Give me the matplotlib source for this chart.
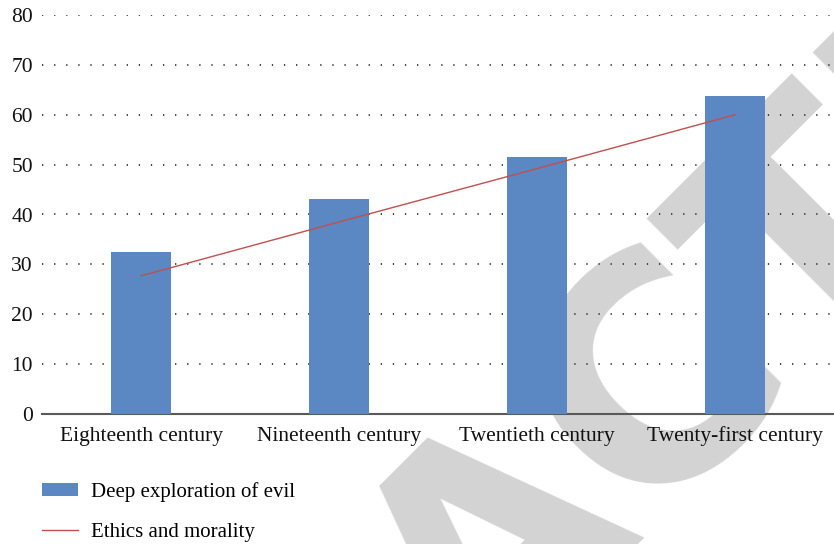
import matplotlib
matplotlib.use("Agg")
import matplotlib.pyplot as plt
import numpy as np

# data
centuries = ['Eighteenth century', 'Nineteenth century', 'Twentieth century', 'Twenty-first century']
evil = [32.5, 43.2, 51.6, 63.7]
ethics = [27.7, 38.5, 49.2, 60.0]

plt.rcParams['font.family'] = ['Liberation Serif', 'DejaVu Serif']

fig = plt.figure(figsize=(8.34, 5.44), dpi=100)
ax = fig.add_axes([42 / 834, (544 - 414) / 544, 1 - 42 / 834, (414 - 15) / 544])
ax.patch.set_visible(False)

# grey watermark behind everything
fig.text(497 / 834, 1 - 538 / 544, 'RETRACTED', rotation=45, ha='center', va='center',
         fontsize=220, color='#d3d3d3', family='DejaVu Sans', weight='bold', zorder=-1)

x = np.arange(len(centuries))
bars = ax.bar(x, evil, width=0.3, color='#5b87c2', label='Deep exploration of evil', zorder=3)
line, = ax.plot(x, ethics, color='#c0504d', lw=1.0, label='Ethics and morality', zorder=4)

ax.set_xlim(-0.5, 3.5)
ax.set_ylim(0, 80)
ax.set_yticks(range(0, 81, 10))
ax.set_xticks(x)
ax.set_xticklabels(centuries)
ax.tick_params(length=0, labelsize=15.5, colors='#111111')
ax.tick_params(axis='y', pad=6.5)
ax.tick_params(axis='x', pad=9)
ax.yaxis.grid(True, linestyle=(0, (0.7, 6.0)), color='#333333', lw=1.3, zorder=1)
ax.set_axisbelow(True)
for s in ['top', 'right', 'left']:
    ax.spines[s].set_visible(False)
ax.spines['bottom'].set_color('#595959')
ax.spines['bottom'].set_linewidth(1.5)

fig.legend(handles=[bars, line], loc='upper left', bbox_to_anchor=(42 / 834, 1 - 482 / 544),
           frameon=False, fontsize=15, handlelength=1.75, handleheight=0.62, handletextpad=0.58,
           labelspacing=1.0, borderpad=0, borderaxespad=0)

fig.savefig('out.png', dpi=100)
